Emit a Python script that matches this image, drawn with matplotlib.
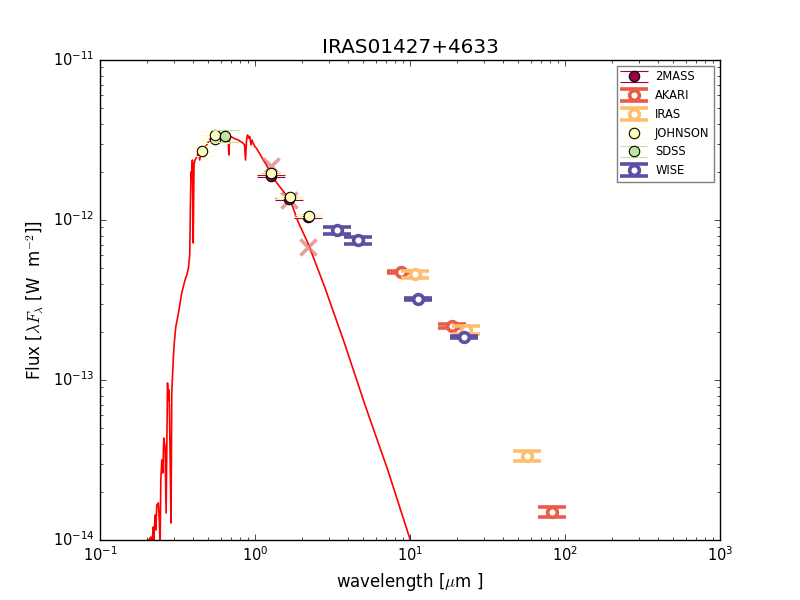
import numpy as np
import matplotlib
matplotlib.use("Agg")
import matplotlib.pyplot as plt

plt.style.use("classic")
plt.rcParams["mathtext.fontset"] = "cm"

# ---- model spectrum (wavelength [um], lambda*F_lambda [W m^-2]) ----
model_wl = [0.1976, 0.2065, 0.2128, 0.2160, 0.2209, 0.2225, 0.2268, 0.2292, 0.2327, 0.2379,
            0.2414, 0.2443, 0.2468, 0.2505, 0.2542, 0.2580, 0.2630, 0.2670, 0.2726, 0.2758,
            0.2791, 0.2832, 0.2874, 0.2904, 0.2979, 0.3014, 0.3082, 0.3208, 0.3270, 0.3368,
            0.3537, 0.3628, 0.3720, 0.3793, 0.3832, 0.3866, 0.3906, 0.3947, 0.3994, 0.4041,
            0.4102, 0.4206, 0.4313, 0.4397, 0.4495, 0.4597, 0.4756, 0.4876, 0.5000, 0.5098,
            0.5252, 0.5410, 0.5655, 0.5911, 0.6090, 0.6366, 0.6556, 0.6705, 0.6784, 0.6855,
            0.7062, 0.7383, 0.7798, 0.8069, 0.8396, 0.8561, 0.8688, 0.8817, 0.8950, 0.9082,
            0.9260, 0.9425, 0.9565, 0.9736, 0.9926, 1.0224, 1.0610, 1.1011, 1.1427, 1.1858,
            1.2214, 1.2636, 1.3405, 1.4437, 1.571, 1.717, 1.896, 2.198, 2.486, 2.811,
            3.780, 5.083, 7.189, 10.04, 10.93]
model_flux = [7.50e-15, 1.00e-14, 1.044e-14, 9.3e-15, 1.206e-14, 1.00e-14, 1.433e-14, 1.155e-14, 1.655e-14, 1.703e-14,
              1.334e-14, 9.3e-15, 2.371e-14, 3.162e-14, 2.623e-14, 4.34e-14, 3.813e-14, 1.475e-14, 9.58e-14, 7.50e-14,
              8.66e-14, 3.50e-14, 1.277e-14, 8.30e-14, 1.433e-13, 1.703e-13, 2.144e-13, 2.623e-13, 2.943e-13, 3.50e-13,
              4.217e-13, 4.53e-13, 5.01e-13, 6.04e-13, 1.241e-12, 2.0e-12, 1.778e-12, 2.371e-12, 7.18e-13, 2.207e-12,
              2.371e-12, 2.477e-12, 2.623e-12, 2.371e-12, 2.738e-12, 2.661e-12, 2.858e-12, 2.943e-12, 3.073e-12, 3.162e-12,
              3.302e-12, 3.35e-12, 3.40e-12, 3.449e-12, 3.449e-12, 3.42e-12, 3.40e-12, 3.302e-12, 2.548e-12, 3.302e-12,
              3.302e-12, 3.23e-12, 3.162e-12, 3.095e-12, 3.016e-12, 2.943e-12, 2.371e-12, 3.162e-12, 3.40e-12, 3.253e-12,
              3.315e-12, 2.943e-12, 3.162e-12, 3.016e-12, 2.90e-12, 2.806e-12, 2.642e-12, 2.487e-12, 2.337e-12, 2.207e-12,
              2.084e-12, 1.958e-12, 1.778e-12, 1.615e-12, 1.454e-12, 1.272e-12, 9.76e-13, 7.15e-13, 5.23e-13, 3.83e-13,
              1.696e-13, 7.15e-14, 2.738e-14, 1.00e-14, 7.83e-15]

# ---- synthetic model photometry (x markers) ----
synth_wl = [1.27, 1.66, 2.20]
synth_flux = [2.18e-12, 1.33e-12, 6.81e-13]

# ---- observed photometry ----
surveys = ["2MASS", "AKARI", "IRAS", "JOHNSON", "SDSS", "WISE"]

mass2_wl = [1.26, 1.66, 2.19]
mass2_flux = [1.88e-12, 1.35e-12, 1.05e-12]
mass2_err = [3.0e-14, 2.5e-14, 2.0e-14]

akari_wl = [8.75, 18.8, 82.6]
akari_flux = [4.71e-13, 2.17e-13, 1.50e-14]
akari_err = [7.0e-15, 6.0e-15, 1.1e-15]

iras_wl = [10.8, 22.9, 56.5]
iras_flux = [4.58e-13, 2.05e-13, 3.36e-14]
iras_err = [2.3e-14, 1.1e-14, 2.6e-15]

johnson_wl = [0.453, 0.555, 0.55, 1.26, 1.67, 2.22]
johnson_flux = [2.70e-12, 3.21e-12, 3.38e-12, 1.97e-12, 1.39e-12, 1.06e-12]
johnson_err = [2.0e-13, 2.0e-13, 2.2e-13, 3.0e-14, 2.5e-14, 2.0e-14]

sdss_wl = [0.637]
sdss_flux = [3.37e-12]
sdss_err = [2.8e-13]

wise_wl = [3.4, 4.6, 11.2, 22.2]
wise_flux = [8.66e-13, 7.50e-13, 3.21e-13, 1.86e-13]
wise_err = [4.3e-14, 3.7e-14, 5.0e-15, 3.7e-15]

cols = plt.cm.Spectral(np.linspace(0, 1, 7))
color = {"2MASS": cols[0], "AKARI": cols[1], "IRAS": cols[2],
         "JOHNSON": cols[3], "SDSS": cols[4], "WISE": cols[6]}

fig = plt.figure(figsize=(8, 6), dpi=100)
ax = fig.add_axes([0.125, 0.1, 0.775, 0.8])

ax.plot(model_wl, model_flux, color="red", lw=1.2, zorder=1)

ax.plot(synth_wl, synth_flux, ls="none", marker="x", ms=11, mew=2.5,
        color="#9e0142", alpha=0.4, zorder=2)
ax.plot(synth_wl, synth_flux, ls="none", marker="x", ms=11, mew=2.0,
        color="#f4a582", alpha=0.6, zorder=2)

data = {
    "2MASS": (mass2_wl, mass2_flux, mass2_err),
    "AKARI": (akari_wl, akari_flux, akari_err),
    "IRAS": (iras_wl, iras_flux, iras_err),
    "JOHNSON": (johnson_wl, johnson_flux, johnson_err),
    "SDSS": (sdss_wl, sdss_flux, sdss_err),
    "WISE": (wise_wl, wise_flux, wise_err),
}
hollow = {"AKARI", "IRAS", "WISE"}

for i, s in enumerate(surveys):
    wl, fl, er = data[s]
    c = color[s]
    if s in hollow:
        ax.errorbar(wl, fl, yerr=er, fmt="o", color=c, ecolor=c, mfc="white",
                    mec=c, ms=7, mew=2.6, capsize=10, capthick=3, elinewidth=3,
                    label=s, zorder=4 + i)
    else:
        ax.errorbar(wl, fl, yerr=er, fmt="o", color=c, ecolor=c, mfc=c,
                    mec="k", ms=7.5, mew=0.8, capsize=10, capthick=1, elinewidth=1,
                    label=s, zorder=4 + i)

ax.set_xscale("log")
ax.set_yscale("log")
ax.set_xlim(1e-1, 1e3)
ax.set_ylim(1e-14, 1e-11)
ax.tick_params(axis="both", which="major", labelsize=10.5)
ax.set_title("IRAS01427+4633")
ax.set_xlabel(r"wavelength [$\mu$m ]")
ax.set_ylabel(r"Flux [$\lambda F_\lambda$ [W  m$^{-2}$]]")

leg = ax.legend(loc="upper right", numpoints=1, fontsize=8.3, framealpha=0.5,
                labelspacing=0.5, handlelength=2.15)

fig.savefig("out.png", dpi=100)
